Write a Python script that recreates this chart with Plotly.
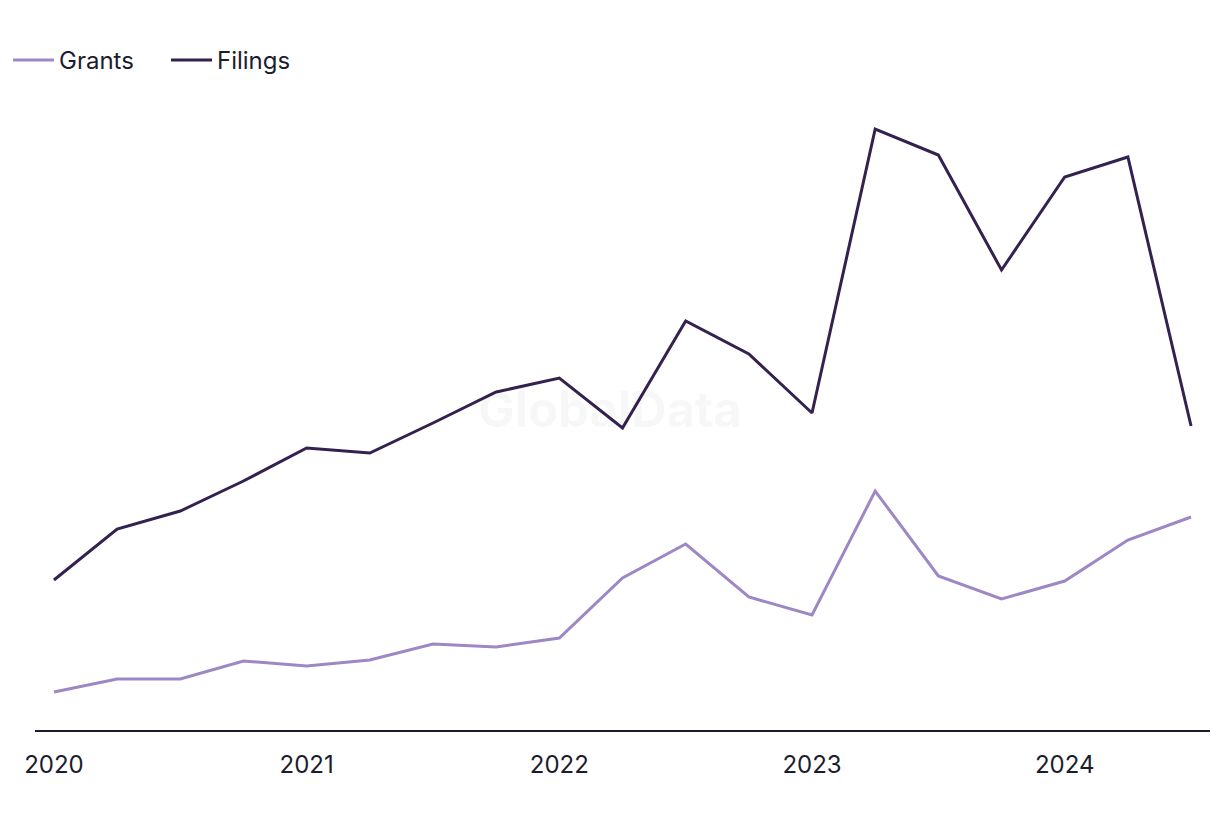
import plotly.graph_objects as go

quarters = ["2020 Q1", "2020 Q2", "2020 Q3", "2020 Q4",
            "2021 Q1", "2021 Q2", "2021 Q3", "2021 Q4",
            "2022 Q1", "2022 Q2", "2022 Q3", "2022 Q4",
            "2023 Q1", "2023 Q2", "2023 Q3", "2023 Q4",
            "2024 Q1", "2024 Q2", "2024 Q3"]
filings = [150, 201, 219, 249, 282, 277, 307, 338, 352, 302, 409, 376, 317, 601, 575, 460, 553, 573, 304]
grants = [38, 51, 51, 69, 64, 70, 86, 83, 92, 152, 186, 133, 115, 239, 154, 131, 149, 190, 213]
year_ticks = ["2020", "2021", "2022", "2023", "2024"]

x_idx = list(range(len(quarters)))
tick_pos = [i for i, q in enumerate(quarters) if q.endswith("Q1")]

fig = go.Figure()
fig.add_trace(go.Scatter(x=x_idx, y=grants, mode="lines", name="Grants",
                         line=dict(color="#9d87c4", width=3), text=quarters,
                         hovertemplate="%{text}: %{y}<extra>Grants</extra>"))
fig.add_trace(go.Scatter(x=x_idx, y=filings, mode="lines", name="Filings",
                         line=dict(color="#33214f", width=3), text=quarters,
                         hovertemplate="%{text}: %{y}<extra>Filings</extra>"))

fig.add_annotation(text="<b>GlobalData</b>", xref="paper", yref="paper", x=0.489, y=0.508,
                   showarrow=False, font=dict(size=49, color="rgba(0,0,0,0.03)", family="Inter"))

fig.update_layout(
    width=1220, height=820,
    margin=dict(l=27, r=18, t=92, b=98),
    paper_bgcolor="white", plot_bgcolor="white",
    font=dict(family="Inter, Roboto, sans-serif", color="#1c1c2e", size=24),
    legend=dict(orientation="h", xref="container", yref="container", x=0.0, y=1 - 30 / 820,
                xanchor="left", yanchor="top", font=dict(size=24), itemwidth=41,
                entrywidth=102, entrywidthmode="pixels", traceorder="normal"),
    xaxis=dict(range=[-0.3, 18.3], tickvals=tick_pos, ticktext=year_ticks,
               showgrid=False, zeroline=False, showline=True, linecolor="#1c1c2e", linewidth=2,
               ticks="", tickfont=dict(size=24), ticklabelstandoff=12),
    yaxis=dict(range=[0, 630], showgrid=False, zeroline=False, showticklabels=False, showline=False),
    showlegend=True,
)

fig.write_html("out.html")
